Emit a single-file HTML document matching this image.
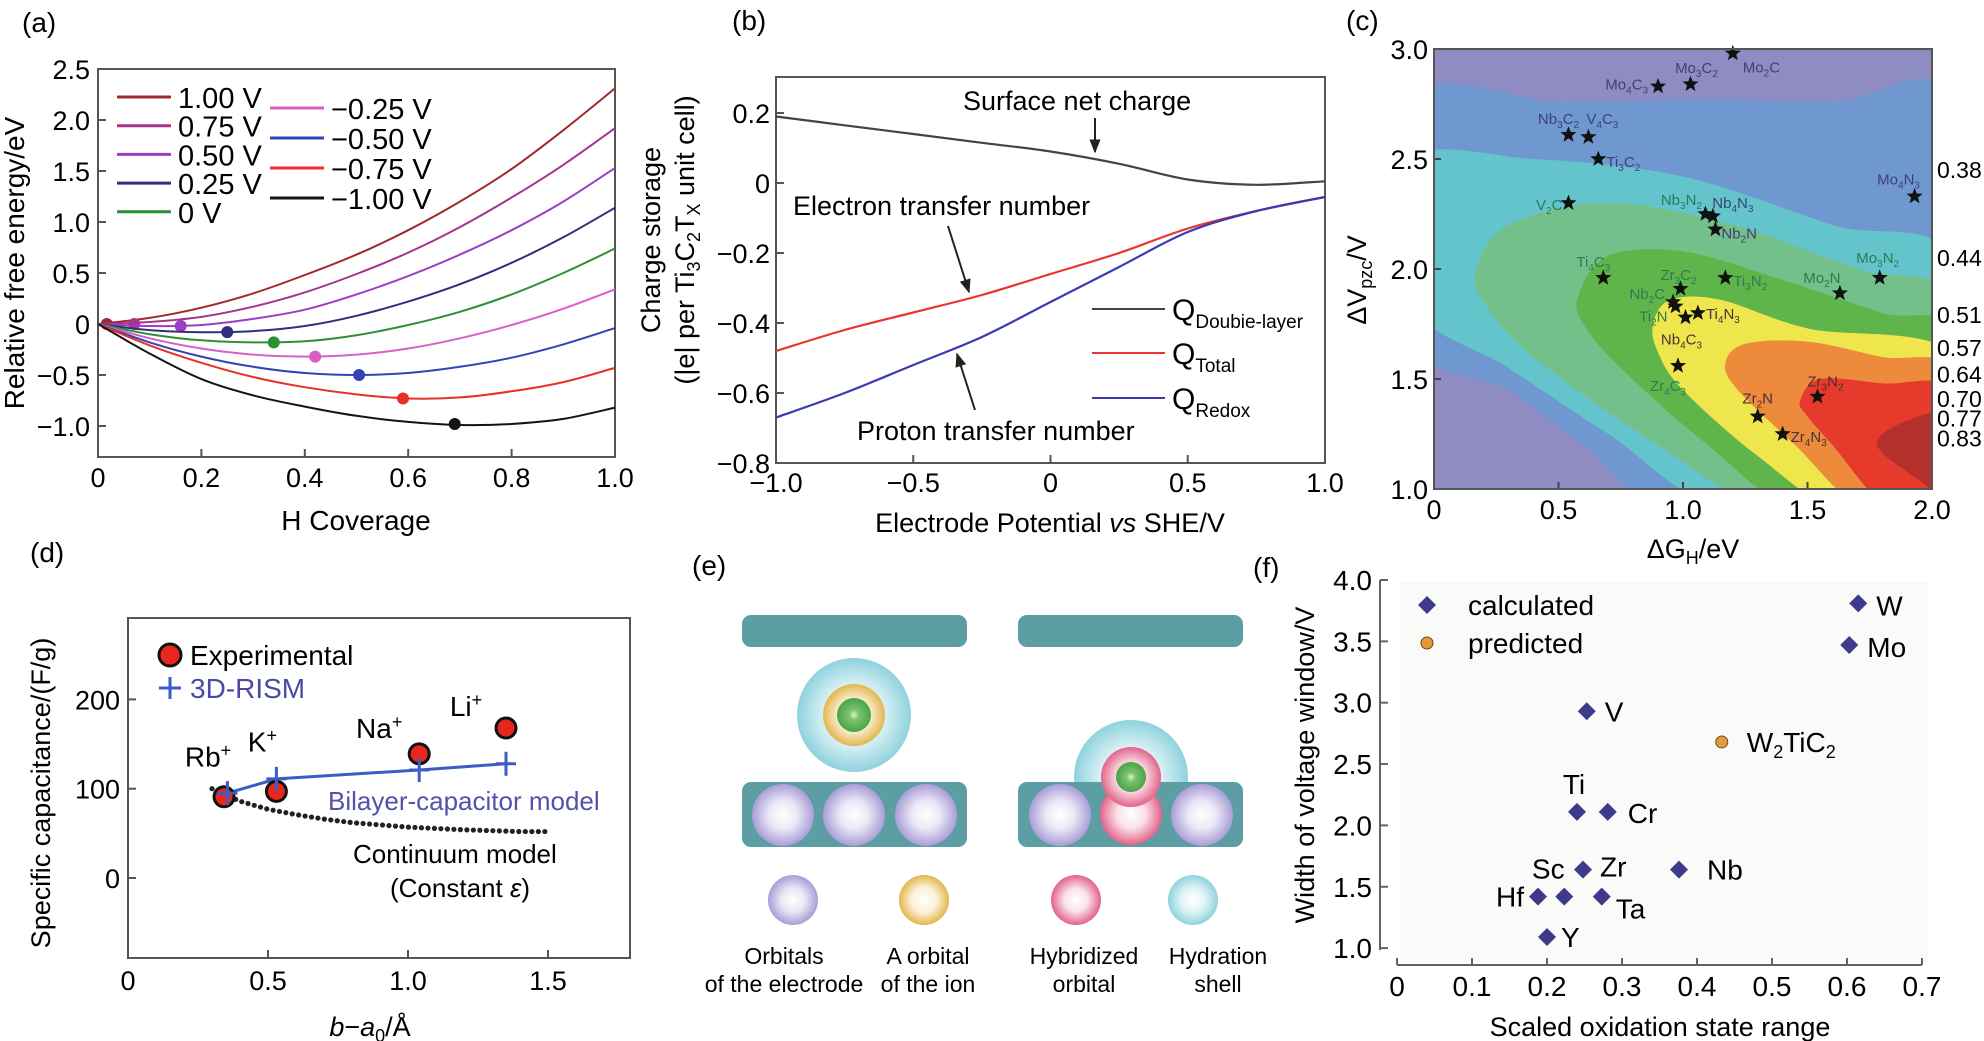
<!DOCTYPE html>
<html><head><meta charset="utf-8">
<style>
html,body{margin:0;padding:0;background:#fff;}
svg{display:block;font-family:"Liberation Sans",Arial,sans-serif;}
</style></head>
<body>
<svg id="fig" xmlns="http://www.w3.org/2000/svg" width="1984" height="1041" viewBox="0 0 1984 1041">
<defs>
<marker id="arr" viewBox="0 0 10 10" refX="9" refY="5" markerWidth="7" markerHeight="7" orient="auto-start-reverse"><path d="M0,1 L10,5 L0,9 z" fill="#222"/></marker>
<radialGradient id="gPur"><stop offset="0" stop-color="#fff"/><stop offset="0.45" stop-color="#ece8f6"/><stop offset="1" stop-color="#a89ed6"/></radialGradient>
<radialGradient id="gYel"><stop offset="0" stop-color="#fff"/><stop offset="0.5" stop-color="#fbf2d8"/><stop offset="1" stop-color="#e2b64e"/></radialGradient>
<radialGradient id="gPink"><stop offset="0" stop-color="#fff"/><stop offset="0.45" stop-color="#fbe3ea"/><stop offset="1" stop-color="#e2648a"/></radialGradient>
<radialGradient id="gCyan"><stop offset="0" stop-color="#fff"/><stop offset="0.5" stop-color="#def3f6"/><stop offset="1" stop-color="#8fd2dd"/></radialGradient>
<radialGradient id="gGreen"><stop offset="0" stop-color="#dff2d8"/><stop offset="0.3" stop-color="#7cc46c"/><stop offset="1" stop-color="#4aa34a"/></radialGradient>
<clipPath id="clipC"><rect x="1434" y="49" width="498" height="440"/></clipPath>
</defs>

<text x="22" y="32" font-size="28">(a)</text>
<text x="732" y="30" font-size="28">(b)</text>
<text x="1346" y="30" font-size="28">(c)</text>
<text x="30" y="562" font-size="28">(d)</text>
<text x="692" y="575" font-size="28">(e)</text>
<text x="1253" y="577" font-size="28">(f)</text>

<g>
<rect x="98" y="69" width="517" height="388" fill="none" stroke="#555" stroke-width="2"/>
<text x="0" y="0" font-size="28" text-anchor="middle" transform="translate(24,263) rotate(-90)">Relative free energy/eV</text>
<text x="356" y="530" font-size="28" text-anchor="middle">H Coverage</text>
</g>
<g id="gA"></g>

<g>
<rect x="776" y="77" width="549" height="386" fill="none" stroke="#555" stroke-width="2"/>
<text font-size="27" text-anchor="middle" transform="translate(660,240) rotate(-90)">Charge storage</text>
<text font-size="27" text-anchor="middle" transform="translate(694,240) rotate(-90)">(|e| per Ti<tspan font-size="18" dy="6">3</tspan><tspan dy="-6">C</tspan><tspan font-size="18" dy="6">2</tspan><tspan dy="-6">T</tspan><tspan font-size="18" dy="6">X</tspan><tspan dy="-6"> unit cell)</tspan></text>
<text x="1050" y="532" font-size="27" text-anchor="middle">Electrode Potential <tspan font-style="italic">vs</tspan> SHE/V</text>
<text x="963" y="110" font-size="27">Surface net charge</text>
<line x1="1095" y1="118" x2="1095" y2="152" stroke="#222" stroke-width="2" marker-end="url(#arr)"/>
<text x="793" y="215" font-size="27">Electron transfer number</text>
<line x1="948" y1="226" x2="969" y2="292" stroke="#222" stroke-width="2" marker-end="url(#arr)"/>
<text x="857" y="440" font-size="27">Proton transfer number</text>
<line x1="975" y1="410" x2="957" y2="354" stroke="#222" stroke-width="2" marker-end="url(#arr)"/>
<g>
<line x1="1092" y1="309" x2="1165" y2="309" stroke="#444" stroke-width="2"/>
<text x="1172" y="320" font-size="30">Q<tspan font-size="19" dy="8">Doubie-layer</tspan></text>
<line x1="1092" y1="353" x2="1165" y2="353" stroke="#e33" stroke-width="2"/>
<text x="1172" y="364" font-size="30">Q<tspan font-size="19" dy="8">Total</tspan></text>
<line x1="1092" y1="398" x2="1165" y2="398" stroke="#3a3ab0" stroke-width="2"/>
<text x="1172" y="409" font-size="30">Q<tspan font-size="19" dy="8">Redox</tspan></text>
</g>
</g>
<g id="gB"></g>

<g id="gC"></g>
<g>
<rect x="1434" y="49" width="498" height="440" fill="none" stroke="#555" stroke-width="2"/>
<text font-size="27" text-anchor="middle" transform="translate(1366,280) rotate(-90)">ΔV<tspan font-size="18" dy="6">pzc</tspan><tspan dy="-6">/V</tspan></text>
<text x="1693" y="558" font-size="27" text-anchor="middle">ΔG<tspan font-size="18" dy="6">H</tspan><tspan dy="-6">/eV</tspan></text>
</g>

<g>
<rect x="128" y="618" width="502" height="340" fill="none" stroke="#555" stroke-width="2"/>
<text font-size="27" text-anchor="middle" transform="translate(50,793) rotate(-90)">Specific capacitance/(F/g)</text>
<text x="370" y="1036" font-size="27" text-anchor="middle"><tspan font-style="italic">b</tspan>−<tspan font-style="italic">a</tspan><tspan font-size="18" dy="6">0</tspan><tspan dy="-6">/Å</tspan></text>
<g>
<circle cx="170" cy="655" r="11" fill="#e8261c" stroke="#111" stroke-width="3"/>
<text x="190" y="665" font-size="28">Experimental</text>
<path d="M159,688 h22 M170,677 v22" stroke="#3b5cc4" stroke-width="3"/>
<text x="190" y="698" font-size="28" fill="#4a4aa6">3D-RISM</text>
</g>
<text x="328" y="810" font-size="26" fill="#5252aa">Bilayer-capacitor model</text>
<text x="353" y="863" font-size="26">Continuum model</text>
<text x="390" y="897" font-size="26">(Constant <tspan font-style="italic">ε</tspan>)</text>
</g>
<g id="gD"></g>

<g>
<rect x="742" y="615" width="225" height="32" rx="9" fill="#5d9ea5"/>
<circle cx="854" cy="715" r="57" fill="url(#gCyan)"/>
<circle cx="854" cy="715" r="31" fill="url(#gYel)"/>
<circle cx="854" cy="715" r="17" fill="url(#gGreen)"/>
<rect x="742" y="782" width="225" height="65" rx="9" fill="#5d9ea5"/>
<circle cx="783" cy="815" r="31" fill="url(#gPur)"/>
<circle cx="854" cy="815" r="31" fill="url(#gPur)"/>
<circle cx="926" cy="815" r="31" fill="url(#gPur)"/>

<rect x="1018" y="615" width="225" height="32" rx="9" fill="#5d9ea5"/>
<circle cx="1131" cy="777" r="57" fill="url(#gCyan)"/>
<rect x="1018" y="782" width="225" height="65" rx="9" fill="#5d9ea5"/>
<circle cx="1060" cy="815" r="31" fill="url(#gPur)"/>
<circle cx="1202" cy="815" r="31" fill="url(#gPur)"/>
<circle cx="1131" cy="814" r="31" fill="url(#gPink)"/>
<circle cx="1131" cy="777" r="30" fill="url(#gPink)"/>
<circle cx="1131" cy="777" r="15" fill="url(#gGreen)"/>

<circle cx="793" cy="900" r="25" fill="url(#gPur)"/>
<circle cx="924" cy="900" r="25" fill="url(#gYel)"/>
<circle cx="1076" cy="900" r="25" fill="url(#gPink)"/>
<circle cx="1193" cy="900" r="25" fill="url(#gCyan)"/>
<g font-size="23" text-anchor="middle">
<text x="784" y="964">Orbitals</text>
<text x="784" y="992">of the electrode</text>
<text x="928" y="964">A orbital</text>
<text x="928" y="992">of the ion</text>
<text x="1084" y="964">Hybridized</text>
<text x="1084" y="992">orbital</text>
<text x="1218" y="964">Hydration</text>
<text x="1218" y="992">shell</text>
</g>
</g>

<g>
<rect x="1400" y="582" width="528" height="380" fill="#fafaf8"/>
<line x1="1380" y1="580" x2="1380" y2="950" stroke="#6b5f5f" stroke-width="2"/>
<line x1="1397" y1="965" x2="1922" y2="965" stroke="#6b5f5f" stroke-width="2"/>
<text font-size="27" text-anchor="middle" transform="translate(1314,765) rotate(-90)">Width of voltage window/V</text>
<text x="1660" y="1036" font-size="27" text-anchor="middle">Scaled oxidation state range</text>
<g>
<path d="M1427,596 l9,9 l-9,9 l-9,-9 z" fill="#3d3a8c"/>
<text x="1468" y="615" font-size="28">calculated</text>
<circle cx="1427" cy="643" r="6" fill="#e39a3a" stroke="#6b4a1a"/>
<text x="1468" y="653" font-size="28">predicted</text>
</g>
</g>
<g id="gF"></g>

<script>
const NS = 'http://www.w3.org/2000/svg';
function mk(tag, attrs, parent) {
  const e = document.createElementNS(NS, tag);
  for (const k in attrs) e.setAttribute(k, attrs[k]);
  parent.appendChild(e);
  return e;
}
function smooth(pts, closed) {
  const n = pts.length;
  const P = i => closed ? pts[(i + n) % n] : pts[Math.max(0, Math.min(n - 1, i))];
  let d = 'M' + pts[0][0].toFixed(1) + ',' + pts[0][1].toFixed(1);
  const segs = closed ? n : n - 1;
  for (let i = 0; i < segs; i++) {
    const p0 = P(i - 1), p1 = P(i), p2 = P(i + 1), p3 = P(i + 2);
    const c1 = [p1[0] + (p2[0] - p0[0]) / 6, p1[1] + (p2[1] - p0[1]) / 6];
    const c2 = [p2[0] - (p3[0] - p1[0]) / 6, p2[1] - (p3[1] - p1[1]) / 6];
    d += 'C' + c1[0].toFixed(1) + ',' + c1[1].toFixed(1) + ' ' + c2[0].toFixed(1) + ',' + c2[1].toFixed(1) + ' ' + p2[0].toFixed(1) + ',' + p2[1].toFixed(1);
  }
  return d + (closed ? 'Z' : '');
}
function fmt(v, dec) { const s = Math.abs(v).toFixed(dec); return (v < 0 ? '\u2212' : '') + s; }
function addSubText(t, name, subSize, shift) {
  let prevSub = false;
  name.split(/(\d)/).filter(z => z).forEach(part => {
    const ts = document.createElementNS(NS, 'tspan');
    const isSub = /\d/.test(part);
    if (isSub) { ts.setAttribute('font-size', subSize); ts.setAttribute('dy', shift); }
    else if (prevSub) { ts.setAttribute('dy', -shift); }
    prevSub = isSub;
    ts.textContent = part;
    t.appendChild(ts);
  });
}

/* Panel A data */
const aCoverage = [0, 0.1, 0.2, 0.3, 0.4, 0.5, 0.6, 0.7, 0.8, 0.9, 1.0];
const aPotentials = ['1.00 V', '0.75 V', '0.50 V', '0.25 V', '0 V', '\u22120.25 V', '\u22120.50 V', '\u22120.75 V', '\u22121.00 V'];
const aP100 = [0, 0.06, 0.16, 0.3, 0.48, 0.68, 0.92, 1.2, 1.52, 1.9, 2.31];
const aP075 = [0, 0.02, 0.07, 0.17, 0.31, 0.49, 0.7, 0.95, 1.24, 1.56, 1.92];
const aP050 = [0, -0.02, -0.01, 0.05, 0.14, 0.29, 0.47, 0.68, 0.92, 1.2, 1.53];
const aP025 = [0, -0.06, -0.08, -0.07, -0.02, 0.08, 0.22, 0.39, 0.6, 0.85, 1.14];
const aP000 = [0, -0.1, -0.16, -0.18, -0.17, -0.11, -0.01, 0.12, 0.29, 0.5, 0.74];
const aM025 = [0, -0.14, -0.24, -0.3, -0.32, -0.3, -0.24, -0.14, -0.01, 0.15, 0.34];
const aM050 = [0, -0.18, -0.32, -0.42, -0.48, -0.5, -0.48, -0.42, -0.33, -0.2, -0.04];
const aM075 = [0, -0.21, -0.38, -0.52, -0.62, -0.69, -0.73, -0.72, -0.66, -0.57, -0.43];
const aM100 = [0, -0.29, -0.54, -0.7, -0.81, -0.9, -0.96, -0.99, -0.98, -0.93, -0.82];
const aMinX = [0.017, 0.07, 0.16, 0.25, 0.34, 0.42, 0.505, 0.59, 0.69];
const aMinY = [0, 0, -0.02, -0.08, -0.18, -0.32, -0.5, -0.73, -0.98];
const aYTicks = [2.5, 2.0, 1.5, 1.0, 0.5, 0, -0.5, -1.0];
const aXTicks = [0, 0.2, 0.4, 0.6, 0.8, 1.0];

/* Panel B data */
const bPotential = [-1, -0.75, -0.5, -0.25, 0, 0.25, 0.5, 0.75, 1.0];
const bDoubleLayer = [0.19, 0.165, 0.14, 0.115, 0.09, 0.055, 0.01, -0.005, 0.005];
const bTotal = [-0.48, -0.42, -0.37, -0.32, -0.26, -0.2, -0.13, -0.08, -0.04];
const bRedox = [-0.67, -0.6, -0.52, -0.44, -0.34, -0.24, -0.14, -0.08, -0.04];
const bYTicks = [0.2, 0, -0.2, -0.4, -0.6, -0.8];
const bXTicks = [-1.0, -0.5, 0, 0.5, 1.0];

/* Panel C data */
const cNames = ['Mo2C', 'Mo3C2', 'Mo4C3', 'Nb3C2', 'V4C3', 'Ti3C2', 'V2C', 'Nb3N2', 'Nb4N3', 'Nb2N', 'Mo4N3', 'Ti4C3', 'Zr3C2', 'Ti3N2', 'Mo2N', 'Mo3N2', 'Nb2C', 'Ti2N', 'Ti4N3', 'Nb4C3', 'Zr4C3', 'Zr2N', 'Zr3N2', 'Zr4N3'];
const cDeltaG = [1.2, 1.03, 0.9, 0.54, 0.62, 0.66, 0.54, 1.09, 1.12, 1.13, 1.93, 0.68, 0.99, 1.17, 1.63, 1.79, 0.96, 0.97, 1.06, 1.01, 0.98, 1.3, 1.54, 1.4];
const cDeltaV = [2.98, 2.84, 2.83, 2.61, 2.6, 2.5, 2.3, 2.25, 2.24, 2.18, 2.33, 1.96, 1.91, 1.96, 1.89, 1.96, 1.85, 1.83, 1.8, 1.78, 1.56, 1.33, 1.42, 1.25];
const cYTicks = [3.0, 2.5, 2.0, 1.5, 1.0];
const cXTicks = [0, 0.5, 1.0, 1.5, 2.0];
const cLevelLabels = ['0.38', '0.44', '0.51', '0.57', '0.64', '0.70', '0.77', '0.83'];
const cLevelY = [2.45, 2.05, 1.79, 1.64, 1.52, 1.41, 1.32, 1.23];
const cBandBlue = [[-0.1, 2.77], [0.5, 2.76], [1.0, 2.77], [1.6, 2.76], [2.1, 2.72], [2.1, 0.9], [1.0, 0.9], [0.6, 1.2], [0.3, 1.45], [-0.1, 1.7]];
const cBandCyan = [[-0.1, 2.49], [0.4, 2.5], [1.0, 2.42], [1.6, 2.2], [2.1, 2.02], [2.1, 0.9], [1.2, 0.9], [0.7, 1.25], [0.3, 1.55], [-0.1, 1.85]];
const cBandLight = [[0.17, 2.0], [0.3, 2.2], [0.7, 2.3], [1.2, 2.2], [1.7, 2.0], [2.1, 1.84], [2.1, 0.9], [1.38, 0.9], [0.9, 1.2], [0.4, 1.6], [0.2, 1.85]];
const cBandGreen = [[0.58, 1.88], [0.7, 2.06], [1.0, 2.08], [1.4, 1.95], [1.8, 1.8], [2.1, 1.7], [2.1, 0.9], [1.48, 0.9], [1.1, 1.2], [0.75, 1.55], [0.6, 1.75]];
const cBandYellow = [[0.88, 1.75], [0.95, 1.86], [1.15, 1.86], [1.5, 1.73], [2.1, 1.6], [2.1, 0.9], [1.64, 0.9], [1.3, 1.15], [1.0, 1.45], [0.9, 1.62]];
const cBandOrange = [[1.17, 1.57], [1.25, 1.66], [1.5, 1.67], [1.8, 1.6], [2.1, 1.53], [2.1, 0.9], [1.74, 0.9], [1.45, 1.2], [1.22, 1.45]];
const cBandRed = [[1.47, 1.4], [1.55, 1.5], [1.8, 1.48], [2.1, 1.44], [2.1, 0.9], [1.84, 0.9], [1.6, 1.2], [1.5, 1.33]];
const cBandDark = [[1.78, 1.2], [1.9, 1.31], [2.1, 1.33], [2.1, 0.95], [1.95, 1.04]];

/* Panel D data */
const dIons = ['Rb', 'K', 'Na', 'Li'];
const dExpX = [0.343, 0.53, 1.04, 1.35];
const dExpY = [91, 97, 139, 168];
const dRismX = [0.355, 0.53, 1.04, 1.35];
const dRismY = [95, 111, 121, 128];
const dContX = [0.3, 0.35, 0.4, 0.5, 0.6, 0.7, 0.8, 1.0, 1.2, 1.4, 1.5];
const dContY = [100, 93, 86, 77, 71, 66, 62, 57, 54, 52, 52];
const dYTicks = [200, 100, 0];
const dXTicks = [0, 0.5, 1.0, 1.5];

/* Panel F data */
const fNames = ['W', 'Mo', 'V', 'Ti', 'Cr', 'Zr', 'Nb', 'Hf', 'Sc', 'Ta', 'Y'];
const fRange = [0.615, 0.603, 0.253, 0.24, 0.281, 0.248, 0.376, 0.188, 0.223, 0.273, 0.2];
const fWindow = [3.81, 3.47, 2.93, 2.11, 2.11, 1.64, 1.64, 1.42, 1.42, 1.42, 1.09];
const fPredName = ['W2TiC2'];
const fPredRange = [0.433];
const fPredWindow = [2.68];
const fYTicks = [4.0, 3.5, 3.0, 2.5, 2.0, 1.5, 1.0];
const fXTicks = [0, 0.1, 0.2, 0.3, 0.4, 0.5, 0.6, 0.7];

/* Draw A */
(function () {
  const g = document.getElementById('gA');
  const ax = v => 98 + 517 * v;
  const ay = v => 69 + (2.5 - v) * 102;
  const series = [aP100, aP075, aP050, aP025, aP000, aM025, aM050, aM075, aM100];
  const colors = ['#a3282b', '#a8338f', '#9a3fc4', '#2f2f7e', '#2f8f33', '#d85fc8', '#3044b4', '#e8302a', '#141414'];
  aYTicks.forEach(v => {
    const t = mk('line', { x1: 98, x2: 106, y1: ay(v), y2: ay(v), stroke: '#555', 'stroke-width': 2 }, g);
    
    
    const l = mk('text', { x: 90, y: ay(v) + 10, 'font-size': 27, 'text-anchor': 'end' }, g);
    l.textContent = v === 0 ? '0' : fmt(v, 1);
    
    
  });
  aXTicks.forEach(v => {
    const t = mk('line', { x1: ax(v), x2: ax(v), y1: 457, y2: 449, stroke: '#555', 'stroke-width': 2 }, g);
    
    
    const l = mk('text', { x: ax(v), y: 487, 'font-size': 27, 'text-anchor': 'middle' }, g);
    l.textContent = v === 0 ? '0' : v.toFixed(1);
    
    
  });
  series.forEach((s, i) => {
    const pts = aCoverage.map((c, j) => [ax(c), ay(s[j])]);
    const p = mk('path', { d: smooth(pts, false), fill: 'none', stroke: colors[i], 'stroke-width': 2 }, g);
    
    
    const c = mk('circle', { cx: ax(aMinX[i]), cy: ay(aMinY[i]), r: 6, fill: colors[i] }, g);
    
    
    const col = i < 5 ? 0 : 1;
    const row = i < 5 ? i : i - 5;
    const ly = col === 0 ? 97 + row * 28.7 : 108 + row * 30;
    const lx = col === 0 ? 117 : 270;
    const ll = mk('line', { x1: lx, x2: lx + 54, y1: ly, y2: ly, stroke: colors[i], 'stroke-width': 3 }, g);
    
    
    const lt = mk('text', { x: lx + 61, y: ly + 11, 'font-size': 29 }, g);
    lt.textContent = aPotentials[i];
    
    
  });
})();

/* Draw B */
(function () {
  const g = document.getElementById('gB');
  const bx = v => 776 + 274.5 * (v + 1);
  const by = v => 113 + (0.2 - v) * 350;
  bYTicks.forEach(v => {
    const t = mk('line', { x1: 776, x2: 784, y1: by(v), y2: by(v), stroke: '#555', 'stroke-width': 2 }, g);
    
    
    const l = mk('text', { x: 770, y: by(v) + 10, 'font-size': 27, 'text-anchor': 'end' }, g);
    l.textContent = v === 0 ? '0' : fmt(v, 1);
    
    
  });
  bXTicks.forEach(v => {
    const t = mk('line', { x1: bx(v), x2: bx(v), y1: 463, y2: 455, stroke: '#555', 'stroke-width': 2 }, g);
    
    
    const l = mk('text', { x: bx(v), y: 492, 'font-size': 27, 'text-anchor': 'middle' }, g);
    l.textContent = v === 0 ? '0' : fmt(v, 1);
    
    
  });
  const ser = [[bDoubleLayer, '#444', 'line-double-layer'], [bTotal, '#e8352f', 'line-total'], [bRedox, '#3a3ab4', 'line-redox']];
  ser.forEach(s => {
    const pts = bPotential.map((x, j) => [bx(x), by(s[0][j])]);
    const p = mk('path', { d: smooth(pts, false), fill: 'none', stroke: s[1], 'stroke-width': 2.2 }, g);
    
    
  });
})();

/* Draw C */
(function () {
  const g = document.getElementById('gC');
  const cx = v => 1434 + 249 * v;
  const cy = v => 49 + 220 * (3 - v);
  const clip = mk('g', { 'clip-path': 'url(#clipC)' }, g);
  const bg = mk('rect', { x: 1434, y: 49, width: 498, height: 440, fill: '#8e8cc3' }, clip);
  
  
  const bands = [[cBandBlue, '#6f98d1'], [cBandCyan, '#63c5cb'], [cBandLight, '#74c08a'], [cBandGreen, '#5fb44a'], [cBandYellow, '#efe64e'], [cBandOrange, '#ee8a3c'], [cBandRed, '#e63a2d'], [cBandDark, '#b3302d']];
  bands.forEach(b => {
    const pts = b[0].map(p => [cx(p[0]), cy(p[1])]);
    const p = mk('path', { d: smooth(pts, true), fill: b[1] }, clip);
    
    
  });
  cYTicks.forEach(v => {
    const t = mk('line', { x1: 1434, x2: 1441, y1: cy(v), y2: cy(v), stroke: '#444', 'stroke-width': 2 }, g);
    
    
    const l = mk('text', { x: 1428, y: cy(v) + 10, 'font-size': 27, 'text-anchor': 'end' }, g);
    l.textContent = v.toFixed(1);
    
    
  });
  cXTicks.forEach(v => {
    const t = mk('line', { x1: cx(v), x2: cx(v), y1: 489, y2: 482, stroke: '#444', 'stroke-width': 2 }, g);
    
    
    const l = mk('text', { x: cx(v), y: 519, 'font-size': 27, 'text-anchor': 'middle' }, g);
    l.textContent = v === 0 ? '0' : v.toFixed(1);
    
    
  });
  cLevelLabels.forEach((s, i) => {
    const l = mk('text', { x: 1937, y: cy(cLevelY[i]) + 8, 'font-size': 23 }, g);
    l.textContent = s;
    
    
  });
  const N = '#3d3f78', G = '#2d7a58', D = '#4a2f3a';
  const place = {
    Mo2C: [10, 14, 'start', N], Mo3C2: [6, -16, 'middle', N], Mo4C3: [-10, -2, 'end', N], Nb3C2: [-10, -16, 'middle', N],
    V4C3: [14, -18, 'middle', N], Ti3C2: [8, 3, 'start', N], V2C: [-6, 2, 'end', G], Nb3N2: [-24, -14, 'middle', G],
    Nb4N3: [20, -13, 'middle', N], Nb2N: [6, 4, 'start', N], Mo4N3: [-16, -17, 'middle', N], Ti4C3: [-10, -16, 'middle', G],
    Zr3C2: [-2, -14, 'middle', G], Ti3N2: [8, 3, 'start', G], Mo2N: [-18, -15, 'middle', G], Mo3N2: [-2, -20, 'middle', G],
    Nb2C: [-8, -8, 'end', G], Ti2N: [-8, 10, 'end', G], Ti4N3: [8, 1, 'start', D], Nb4C3: [-4, 22, 'middle', D],
    Zr4C3: [-10, 20, 'middle', G], Zr2N: [0, -18, 'middle', D], Zr3N2: [8, -15, 'middle', D], Zr4N3: [8, 3, 'start', D]
  };
  cNames.forEach((n, i) => {
    const x = cx(cDeltaG[i]), y = cy(cDeltaV[i]);
    let d = '';
    for (let k = 0; k < 10; k++) {
      const r = k % 2 === 0 ? 8.5 : 3.6;
      const a = -Math.PI / 2 + k * Math.PI / 5;
      d += (k ? 'L' : 'M') + (x + r * Math.cos(a)).toFixed(1) + ',' + (y + r * Math.sin(a)).toFixed(1);
    }
    const s = mk('path', { d: d + 'Z', fill: '#111' }, g);
    
    
    const pl = place[n];
    const t = mk('text', { x: x + pl[0], y: y + pl[1] + 5, 'font-size': 15, 'text-anchor': pl[2], fill: pl[3] }, g);
    addSubText(t, n, 10, 4);
    
    
  });
})();

/* Draw D */
(function () {
  const g = document.getElementById('gD');
  const dx = v => 128 + 280 * v;
  const dy = v => 878 - 0.893 * v;
  dYTicks.forEach(v => {
    const t = mk('line', { x1: 128, x2: 136, y1: dy(v), y2: dy(v), stroke: '#555', 'stroke-width': 2 }, g);
    
    
    const l = mk('text', { x: 120, y: dy(v) + 10, 'font-size': 27, 'text-anchor': 'end' }, g);
    l.textContent = String(v);
    
    
  });
  dXTicks.forEach(v => {
    const t = mk('line', { x1: dx(v), x2: dx(v), y1: 958, y2: 950, stroke: '#555', 'stroke-width': 2 }, g);
    
    
    const l = mk('text', { x: dx(v), y: 990, 'font-size': 27, 'text-anchor': 'middle' }, g);
    l.textContent = v === 0 ? '0' : v.toFixed(1);
    
    
  });
  let carry = 0;
  const step = 6.5;
  for (let i = 0; i < dContX.length - 1; i++) {
    const x1 = dx(dContX[i]), y1 = dy(dContY[i]), x2 = dx(dContX[i + 1]), y2 = dy(dContY[i + 1]);
    const len = Math.hypot(x2 - x1, y2 - y1);
    let s = carry;
    while (s < len) {
      const f = s / len;
      const c = mk('circle', { cx: x1 + (x2 - x1) * f, cy: y1 + (y2 - y1) * f, r: 2.6, fill: '#222' }, g);
      
      
      s += step;
    }
    carry = s - len;
  }
  const rl = mk('polyline', { points: dRismX.map((x, i) => dx(x) + ',' + dy(dRismY[i])).join(' '), fill: 'none', stroke: '#3b5cc4', 'stroke-width': 3 }, g);
  
  
  dExpX.forEach((x, i) => {
    const c = mk('circle', { cx: dx(x), cy: dy(dExpY[i]), r: 10, fill: '#e8261c', stroke: '#111', 'stroke-width': 3 }, g);
    
    
  });
  dRismX.forEach((x, i) => {
    const px = dx(x), py = dy(dRismY[i]);
    const p = mk('path', { d: `M${px - 10},${py} h20 M${px},${py - 12} v24`, stroke: '#3b5cc4', 'stroke-width': 3 }, g);
    
    
  });
  const labOff = [[-16, -30], [-14, -40], [-40, -16], [-40, -12]];
  dIons.forEach((n, i) => {
    const t = mk('text', { x: dx(dExpX[i]) + labOff[i][0], y: dy(dExpY[i]) + labOff[i][1], 'font-size': 28, 'text-anchor': 'middle' }, g);
    t.textContent = n;
    const sup = document.createElementNS(NS, 'tspan');
    sup.setAttribute('font-size', '18');
    sup.setAttribute('dy', '-10');
    sup.textContent = '+';
    t.appendChild(sup);
    
    
  });
})();

/* Draw F */
(function () {
  const g = document.getElementById('gF');
  const fx = v => 1397 + 750 * v;
  const fy = v => 580 + (4 - v) * 122.7;
  fYTicks.forEach(v => {
    const t = mk('line', { x1: 1380, x2: 1388, y1: fy(v), y2: fy(v), stroke: '#6b5f5f', 'stroke-width': 2 }, g);
    
    
    const l = mk('text', { x: 1372, y: fy(v) + 10, 'font-size': 28, 'text-anchor': 'end' }, g);
    l.textContent = v.toFixed(1);
    
    
  });
  fXTicks.forEach(v => {
    const t = mk('line', { x1: fx(v), x2: fx(v), y1: 965, y2: 958, stroke: '#6b5f5f', 'stroke-width': 2 }, g);
    
    
    const l = mk('text', { x: fx(v), y: 996, 'font-size': 28, 'text-anchor': 'middle' }, g);
    l.textContent = v === 0 ? '0' : v.toFixed(1);
    
    
  });
  const off = { W: [18, 2, 'start'], Mo: [18, 2, 'start'], V: [18, 0, 'start'], Ti: [-3, -28, 'middle'], Cr: [20, 1, 'start'],
    Zr: [17, -3, 'start'], Nb: [28, 0, 'start'], Hf: [-14, 0, 'end'], Sc: [-16, -28, 'middle'], Ta: [14, 12, 'start'], Y: [14, 0, 'start'] };
  fNames.forEach((n, i) => {
    const x = fx(fRange[i]), y = fy(fWindow[i]);
    const d = mk('path', { d: `M${x},${y - 9} l9,9 l-9,9 l-9,-9 z`, fill: '#3d3a8c' }, g);
    
    
    const o = off[n];
    const t = mk('text', { x: x + o[0], y: y + o[1] + 10, 'font-size': 28, 'text-anchor': o[2] }, g);
    t.textContent = n;
    
    
  });
  fPredName.forEach((n, i) => {
    const x = fx(fPredRange[i]), y = fy(fPredWindow[i]);
    const c = mk('circle', { cx: x, cy: y, r: 6, fill: '#e39a3a', stroke: '#6b4a1a' }, g);
    
    
    const t = mk('text', { x: x + 25, y: y + 10, 'font-size': 28 }, g);
    addSubText(t, n, 18, 6);
    
    
  });
})();
</script>
</svg>
</body></html>
